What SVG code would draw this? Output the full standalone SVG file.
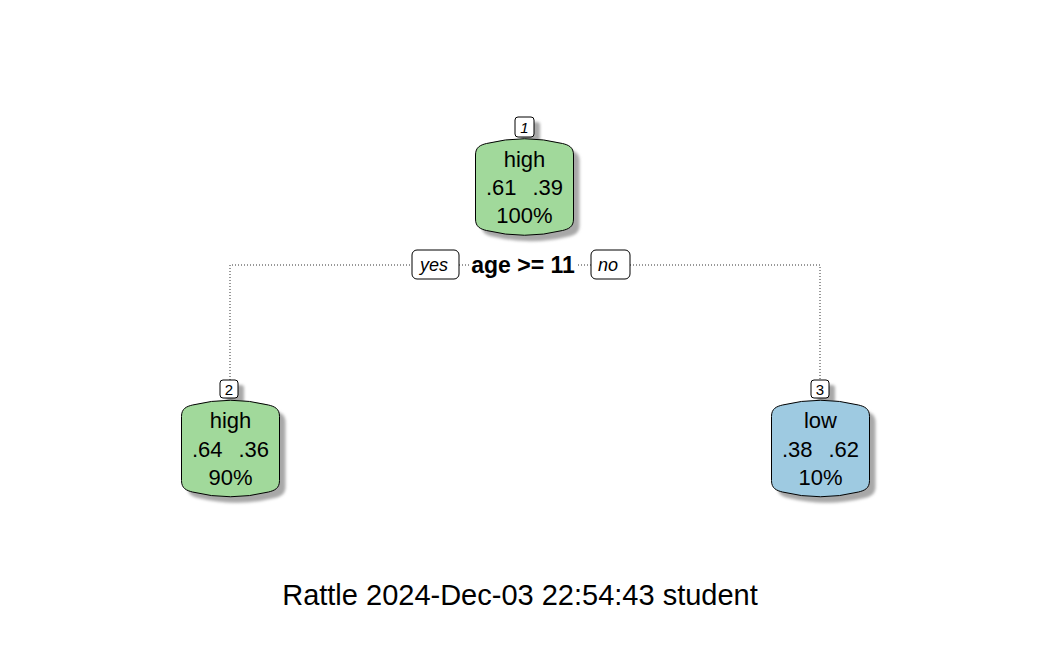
<svg xmlns="http://www.w3.org/2000/svg" width="1050" height="648" viewBox="0 0 1050 648">
<style>
.bg{fill:#ffffff}
.node{stroke:#000;stroke-width:1}
.green{fill:#A1D99B}
.blue{fill:#9ECAE1}
.shadow{fill:#a8a8a8;filter:url(#blur)}
.t{font-family:"Liberation Sans",Arial,sans-serif;font-size:22px;fill:#000;text-anchor:middle}
.tl{font-family:"Liberation Sans",Arial,sans-serif;font-size:22px;fill:#000;text-anchor:end}
.tr{font-family:"Liberation Sans",Arial,sans-serif;font-size:22px;fill:#000;text-anchor:start}
.nnbox{fill:#fff;stroke:#000;stroke-width:1}
.nn{font-family:"Liberation Sans",Arial,sans-serif;font-size:15px;fill:#000;text-anchor:middle}
.lbox{fill:#fff;stroke:#000;stroke-width:1}
.lab{font-family:"Liberation Sans",Arial,sans-serif;font-size:18px;font-style:italic;fill:#000;text-anchor:middle}
.split{font-family:"Liberation Sans",Arial,sans-serif;font-size:23px;font-weight:bold;fill:#000;text-anchor:middle}
.edge{fill:none;stroke:#333;stroke-width:1;stroke-dasharray:1 2}
.foot{font-family:"Liberation Sans",Arial,sans-serif;font-size:29px;fill:#000;text-anchor:middle}
</style>
<defs>
<filter id="blur" x="-20%" y="-20%" width="140%" height="140%"><feGaussianBlur stdDeviation="1.5"/></filter>
<path id="shape" d="M-49,-32 C-49,-40 -44,-42 -38,-43.5 Q0,-53 38,-43.5 C44,-42 49,-40 49,-32 L49,32 C49,40 44,42 38,43.5 Q0,53 -38,43.5 C-44,42 -49,40 -49,32 Z"/>
</defs>
<rect class="bg" x="0" y="0" width="1050" height="648"/>
<g id="connectors">
<polyline class="edge" points="230,380 230,265 412,265"/>
<line class="edge" x1="459" y1="265" x2="469" y2="265"/>
<line class="edge" x1="578" y1="265" x2="591" y2="265"/>
<polyline class="edge" points="630,265 820,265 820,380"/>
<rect class="lbox" x="412" y="250" width="47" height="29" rx="5"/>
<text class="lab" x="434" y="271">yes</text>
<rect class="lbox" x="591" y="250" width="39" height="29" rx="5"/>
<text class="lab" x="608" y="271">no</text>
<text class="split" x="523" y="273">age &gt;= 11</text>
</g>
<g id="node1">
<rect class="shadow" x="521" y="122" width="19" height="20" rx="3"/>
<use href="#shape" class="shadow" x="530.5" y="193"/>
<use href="#shape" class="node green" x="524.5" y="187"/>
<rect class="nnbox" x="515" y="117" width="19" height="20" rx="3"/>
<text class="nn" x="524.5" y="133" font-style="italic">1</text>
<text class="t" x="524.5" y="167">high</text>
<text class="tl" x="516.5" y="195">.61</text>
<text class="tr" x="532.5" y="195">.39</text>
<text class="t" x="524.5" y="223">100%</text>
</g>
<g id="node2">
<rect class="shadow" x="226" y="385" width="18" height="18" rx="3"/>
<use href="#shape" class="shadow" x="236.5" y="454.5"/>
<use href="#shape" class="node green" x="230.5" y="448.5"/>
<rect class="nnbox" x="220" y="380" width="18" height="18" rx="3"/>
<text class="nn" x="229" y="395">2</text>
<text class="t" x="230.5" y="428">high</text>
<text class="tl" x="222.5" y="457">.64</text>
<text class="tr" x="238.5" y="457">.36</text>
<text class="t" x="230.5" y="485">90%</text>
</g>
<g id="node3">
<rect class="shadow" x="817" y="385" width="18" height="18" rx="3"/>
<use href="#shape" class="shadow" x="826.5" y="454.5"/>
<use href="#shape" class="node blue" x="820.5" y="448.5"/>
<rect class="nnbox" x="811" y="380" width="18" height="18" rx="3"/>
<text class="nn" x="820" y="395">3</text>
<text class="t" x="820.5" y="428">low</text>
<text class="tl" x="812.5" y="457">.38</text>
<text class="tr" x="828.5" y="457">.62</text>
<text class="t" x="820.5" y="485">10%</text>
</g>
<text class="foot" x="520" y="605">Rattle 2024-Dec-03 22:54:43 student</text>
</svg>
